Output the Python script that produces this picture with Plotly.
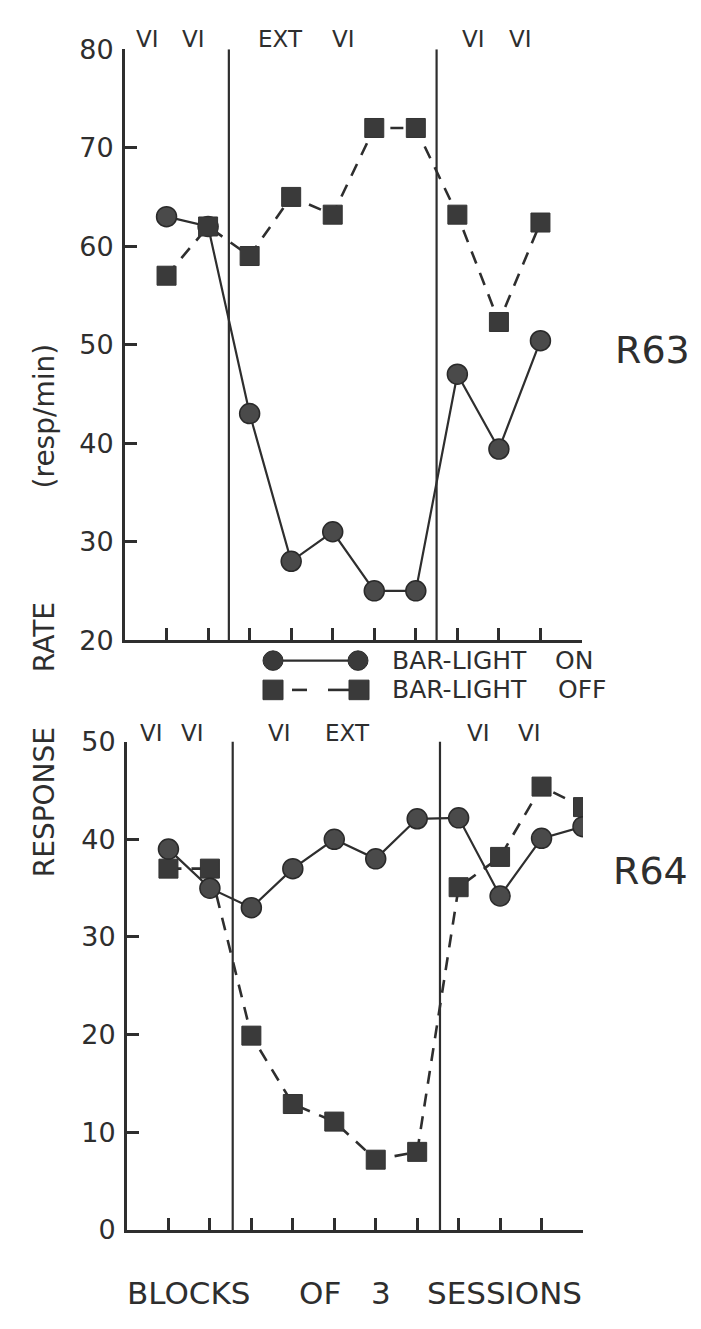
import plotly.graph_objects as go

# ---------------- data ----------------
blocks_top = [1, 2, 3, 4, 5, 6, 7, 8, 9, 10]
r63_on = [63, 62, 43, 28, 31, 25, 25, 47, 39.4, 50.4]
r63_off = [57, 62, 59, 65, 63.2, 72, 72, 63.2, 52.3, 62.4]

blocks_bot = [1, 2, 3, 4, 5, 6, 7, 8, 9, 10, 11]
r64_on = [39, 35, 33, 37, 40, 38, 42.1, 42.2, 34.2, 40.1, 41.3]
r64_off = [37, 37, 19.9, 12.9, 11.1, 7.2, 8, 35.1, 38.2, 45.4, 43.3]

phases_top = ["VI", "VI", "EXT", "VI", "VI", "VI"]
phases_bot = ["VI", "VI", "VI", "EXT", "VI", "VI"]
phase_bounds = [2.5, 7.5]

top_yticks = [20, 30, 40, 50, 60, 70, 80]
bot_yticks = [0, 10, 20, 30, 40, 50]
xticks = list(range(1, 12))

series_names = ["BAR-LIGHT ON", "BAR-LIGHT OFF"]

# ---------------- layout helpers ----------------
W, H = 701, 1329
INK = "#2e2e2e"
FONT = "DejaVu Sans"


def px(x):
    return x / W


def py(y):
    return 1 - y / H


fig = go.Figure()

circle_marker = dict(symbol="circle", size=20, color="#4a4a4a",
                     line=dict(color="#2a2a2a", width=1.5))
square_marker = dict(symbol="square", size=19, color="#3a3a3a",
                     line=dict(color="#333333", width=1))
solid_line = dict(color=INK, width=2.2)
dash_line = dict(color=INK, width=2.6, dash="13px,10px")

# top panel: circles then squares (squares on top)
fig.add_trace(go.Scatter(x=blocks_top, y=r63_on, mode="lines+markers",
                         line=solid_line, marker=circle_marker,
                         xaxis="x", yaxis="y", showlegend=False,
                         name=series_names[0]))
fig.add_trace(go.Scatter(x=blocks_top, y=r63_off, mode="lines+markers",
                         line=dash_line, marker=square_marker,
                         xaxis="x", yaxis="y", showlegend=False,
                         name=series_names[1]))
# bottom panel: squares then circles (circles on top)
fig.add_trace(go.Scatter(x=blocks_bot, y=r64_off, mode="lines+markers",
                         line=dash_line, marker=square_marker,
                         xaxis="x2", yaxis="y2", showlegend=False,
                         name=series_names[1]))
fig.add_trace(go.Scatter(x=blocks_bot, y=r64_on, mode="lines+markers",
                         line=solid_line, marker=circle_marker,
                         xaxis="x2", yaxis="y2", showlegend=False,
                         name=series_names[0]))

axis_common = dict(showgrid=False, zeroline=False, showline=True,
                   linecolor=INK, linewidth=3, ticks="inside",
                   ticklen=12, tickwidth=2.5, tickcolor=INK,
                   tickfont=dict(family=FONT, size=27, color=INK))

fig.update_layout(
    width=W, height=H,
    margin=dict(l=0, r=0, t=0, b=0),
    paper_bgcolor="white", plot_bgcolor="white",
    xaxis=dict(axis_common, domain=[px(125), px(582)], range=[0, 11],
               tickvals=xticks, showticklabels=False, anchor="y"),
    yaxis=dict(axis_common, domain=[py(639), py(34)], range=[20, 80],
               tickvals=top_yticks, anchor="x", ticklabelstandoff=3),
    xaxis2=dict(axis_common, domain=[px(127), px(583)], range=[0, 11],
                tickvals=xticks, showticklabels=False, anchor="y2"),
    yaxis2=dict(axis_common, domain=[py(1243), py(743)], range=[0, 50],
                tickvals=bot_yticks, anchor="x2", ticklabelstandoff=3),
)

shapes = []
annotations = []

# phase boundary lines
for b in phase_bounds:
    shapes.append(dict(type="line", xref="x", yref="y", x0=b, x1=b,
                       y0=20, y1=80, line=dict(color=INK, width=2.2)))
    shapes.append(dict(type="line", xref="x2", yref="y2", x0=b + 0.05,
                       x1=b + 0.05, y0=0, y1=50.3,
                       line=dict(color=INK, width=2.2)))

# phase labels
top_label_pos = [0.54, 1.64, 3.75, 5.25, 8.40, 9.53]
bot_label_pos = [0.58, 1.59, 3.69, 5.31, 8.47, 9.72]
for lab, xp in zip(phases_top, top_label_pos):
    annotations.append(dict(text=lab, x=xp, y=py(24), xref="x", yref="paper",
                            showarrow=False, xanchor="center", yanchor="middle",
                            font=dict(family=FONT, size=23, color=INK)))
for lab, xp in zip(phases_bot, bot_label_pos):
    annotations.append(dict(text=lab, x=xp, y=py(734), xref="x2", yref="paper",
                            showarrow=False, xanchor="center", yanchor="middle",
                            font=dict(family=FONT, size=23, color=INK)))

# legend (drawn manually)
r = 10
for cx in (273, 358):
    shapes.append(dict(type="circle", xref="paper", yref="paper",
                       x0=px(cx - r), x1=px(cx + r), y0=py(660 + r), y1=py(660 - r),
                       fillcolor="#3a3a3a", line=dict(color="#2a2a2a", width=1)))
shapes.append(dict(type="line", xref="paper", yref="paper",
                   x0=px(283), x1=px(348), y0=py(660), y1=py(660),
                   line=dict(color=INK, width=2.2), layer="below"))
for cx in (273, 359):
    shapes.append(dict(type="rect", xref="paper", yref="paper",
                       x0=px(cx - 10), x1=px(cx + 10), y0=py(700), y1=py(680),
                       fillcolor="#3a3a3a", line=dict(color="#333333", width=1)))
for x0, x1 in ((292, 307), (328, 349)):
    shapes.append(dict(type="line", xref="paper", yref="paper",
                       x0=px(x0), x1=px(x1), y0=py(690), y1=py(690),
                       line=dict(color=INK, width=2.6)))

leg_font = dict(family=FONT, size=25, color=INK)
for txt, x, y in (("BAR-LIGHT", 390, 660), ("ON", 553, 660),
                  ("BAR-LIGHT", 390, 690), ("OFF", 556, 690)):
    annotations.append(dict(text=txt, x=px(x), y=py(y), xref="paper",
                            yref="paper", showarrow=False, xanchor="left",
                            yanchor="middle", font=leg_font))

# panel names
annotations.append(dict(text="R63", x=px(652), y=py(342), xref="paper",
                        yref="paper", showarrow=False, xanchor="center",
                        yanchor="middle",
                        font=dict(family=FONT, size=38, color=INK)))
annotations.append(dict(text="R64", x=px(650), y=py(875), xref="paper",
                        yref="paper", showarrow=False, xanchor="center",
                        yanchor="middle",
                        font=dict(family=FONT, size=38, color=INK)))

# y title (vertical words)
for txt, y in (("RESPONSE", 805), ("RATE", 636), ("(resp/min)", 410)):
    annotations.append(dict(text=txt, x=px(44), y=py(y), xref="paper",
                            yref="paper", showarrow=False, textangle=-90,
                            xanchor="center", yanchor="middle",
                            font=dict(family=FONT, size=28, color=INK)))

# x title
for txt, x in (("BLOCKS", 189), ("OF", 320), ("3", 381), ("SESSIONS", 504)):
    annotations.append(dict(text=txt, x=px(x), y=py(1307), xref="paper",
                            yref="paper", showarrow=False, xanchor="center",
                            yanchor="middle",
                            font=dict(family=FONT, size=31, color=INK)))

fig.update_layout(shapes=shapes, annotations=annotations)
fig.write_html("out.html")
